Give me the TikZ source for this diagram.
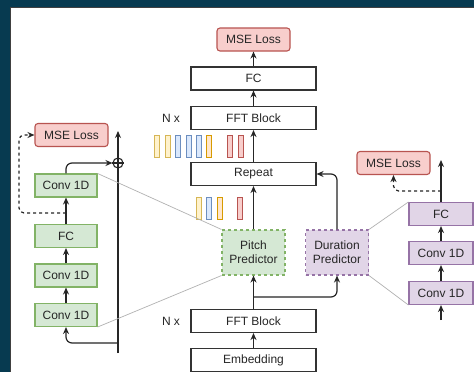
\documentclass[tikz,border=0pt]{standalone}
\usepackage{fontspec}
\setmainfont{Liberation Sans}
\usetikzlibrary{arrows.meta}

\definecolor{bgdark}{HTML}{073A50}
\definecolor{redfill}{HTML}{F8CECC}
\definecolor{redline}{HTML}{B85450}
\definecolor{greenfill}{HTML}{D5E8D4}
\definecolor{greenline}{HTML}{82B366}
\definecolor{purplefill}{HTML}{E1D5E7}
\definecolor{purpleline}{HTML}{9673A6}
\definecolor{yellowfill}{HTML}{FFF2CC}
\definecolor{yellowline}{HTML}{D6B656}
\definecolor{bluefill}{HTML}{DAE8FC}
\definecolor{blueline}{HTML}{6C8EBF}
\definecolor{orangefill}{HTML}{FFE6CC}
\definecolor{orangeline}{HTML}{D79B00}

\tikzset{
  txt/.style={font=\fontsize{12}{14}\selectfont, text=black!85},
  box/.style={txt, draw=black!80, line width=1.1pt, minimum width=125pt,
    minimum height=23pt, inner sep=0pt},
  lossbox/.style={box, fill=redfill, draw=redline, rounded corners=3pt,
    minimum width=73pt},
  gbox/.style={box, fill=greenfill, draw=greenline, minimum width=62pt},
  pbox/.style={box, fill=purplefill, draw=purpleline, minimum width=64pt},
  predbox/.style={box, dashed, align=center, minimum width=63pt,
    minimum height=45pt},
  arr/.style={draw=black!85, line width=1.2pt, -{Stealth[length=7pt,width=6pt]}},
  dasharr/.style={arr, dashed, rounded corners=5pt},
  gline/.style={draw=black!30, line width=0.7pt},
}

\begin{document}
\begin{tikzpicture}[x=1pt,y=-1pt]
 \useasboundingbox (0,0) rectangle (474,372);
 \fill[bgdark] (0,0) rectangle (474,372);
 \fill[black!75] (10,7) rectangle (474,372);
 \fill[white] (11,8) rectangle (474,372);

 % main column
 \node[lossbox] (mse) at (253.5,39.5) {MSE Loss};
 \node[box] (fc) at (253.5,78.5) {FC};
 \node[box] (fftb) at (253.5,118) {FFT Block};
 \node[txt] (nxb) at (171,118) {N x};
 \node[box] (rep) at (253.5,174) {Repeat};
 \node[predbox, fill=greenfill, draw=greenline] (pitch) at (253.5,252.5) {Pitch\\Predictor};
 \node[predbox, fill=purplefill, draw=purpleline] (dur) at (337,252.5) {Duration\\Predictor};
 \node[box] (ffta) at (253.5,321) {FFT Block};
 \node[txt] (nxa) at (171,321) {N x};
 \node[box] (emb) at (253.5,360) {Embedding};

 % expanded sequence
 \foreach \x/\c in {154/yellow,165/yellow,175/blue,186/blue,196/blue,206/orange,227/red,238/red}
   \draw[fill=\c fill, draw=\c line, line width=0.9pt] (\x,135) rectangle ++(5.5,22);
 % phoneme sequence
 \foreach \x/\c in {196/yellow,206/blue,217/orange,237/red}
   \draw[fill=\c fill, draw=\c line, line width=0.9pt] (\x,197) rectangle ++(5.5,22);

 \coordinate (split) at (253.5,297);
 \draw[arr] (emb) -- (ffta);
 \draw[arr] (ffta) -- (pitch);
 \draw[arr, rounded corners=6pt] (split) -| (dur);
 \draw[arr] (pitch) -- (rep);
 \draw[arr, rounded corners=6pt] (dur) |- (rep);
 \draw[arr] (rep) -- (fftb);
 \draw[arr] (fftb) -- (fc);
 \draw[arr] (fc) -- (mse);

 % pitch predictor detail
 \node[lossbox] (lmse) at (71.5,135) {MSE Loss};
 \node[gbox] (lconvc) at (66,185.5) {Conv 1D};
 \node[gbox] (lfc) at (66,236) {FC};
 \node[gbox] (lconvb) at (66,275.5) {Conv 1D};
 \node[gbox] (lconva) at (66,315) {Conv 1D};
 \node[circle, draw=black!85, line width=1.1pt, minimum size=10pt, inner sep=0pt] (plus) at (118,163) {};
 \coordinate (lbot) at (118,353);
 \coordinate (ltop) at (118,131);
 \coordinate (lsplit) at (118,343);
 \coordinate (ldash) at (66,213);

 \draw[arr] (lbot) -- (ltop);
 \draw[draw=black!85, line width=1.1pt] (plus.west) -- (plus.east);
 \draw[arr, rounded corners=6pt] (lsplit) -| (lconva);
 \draw[arr] (lconva) -- (lconvb);
 \draw[arr] (lconvb) -- (lfc);
 \draw[arr] (lfc) -- (lconvc);
 \draw[arr, rounded corners=6pt] (lconvc) |- (plus);
 \draw[dasharr] (ldash) -- ++(-47,0) |- (lmse);

 % duration predictor detail
 \node[lossbox] (rmse) at (393.5,163) {MSE Loss};
 \node[pbox] (rfc) at (441,214) {FC};
 \node[pbox] (rconvb) at (441,253) {Conv 1D};
 \node[pbox] (rconva) at (441,293) {Conv 1D};
 \coordinate (rin) at (441,320);
 \coordinate (rout) at (441,160);
 \coordinate (rdash) at (441,191);

 \draw[arr] (rin) -- (rconva);
 \draw[arr] (rconva) -- (rconvb);
 \draw[arr] (rconvb) -- (rfc);
 \draw[arr] (rfc) -- (rout);
 \draw[dasharr] (rdash) -| (rmse);

 % zoom lines
 \draw[gline] (lconvc.north east) -- (pitch.north west);
 \draw[gline] (lconva.south east) -- (pitch.south west);
 \draw[gline] (dur.north east) -- (rfc.north west);
 \draw[gline] (dur.south east) -- (rconva.south west);
\end{tikzpicture}
\end{document}
